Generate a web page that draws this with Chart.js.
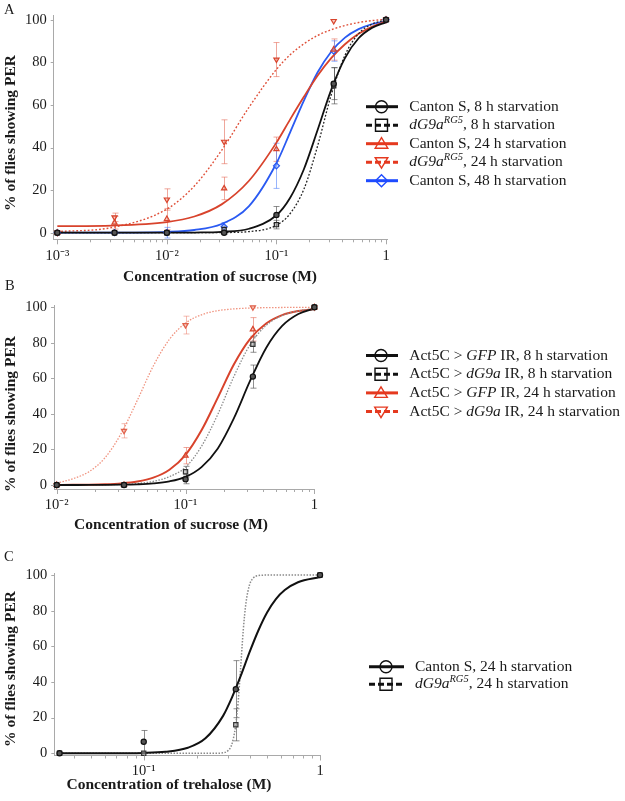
<!DOCTYPE html>
<html><head><meta charset="utf-8">
<script src="https://cdn.jsdelivr.net/npm/chart.js@4/dist/chart.umd.min.js"></script>
<style>
html,body{margin:0;padding:0;background:#fff;width:625px;height:801px;overflow:hidden}
canvas{position:absolute;left:0;top:0}
</style></head><body>
<canvas id="cA" width="625" height="801"></canvas>
<canvas id="cB" width="625" height="801"></canvas>
<canvas id="cC" width="625" height="801"></canvas>
<script>
// ================= Panel A data =================
const concA = [0.001, 0.00333, 0.01, 0.0333, 0.1, 0.333, 1];
const cantonS8hA = [0, 0, 0, 0, 8.3, 70, 100];
const cantonS8hAErr = [0, 0, 0, 0.8, 4, 7.5, 0];
const dG9a8hA = [0, 0, 0, 1.5, 3.8, 69, 100];
const dG9a8hAErr = [0, 0, 0, 1, 2, 8.5, 0];
const cantonS24hA = [0, 4.7, 6.4, 20.8, 39.2, 86, 100];
const cantonS24hAErr = [0, 3, 5, 5.3, 5.7, 5, 0];
const dG9a24hA = [0, 7.2, 15.6, 42.7, 81.3, 99.4, 100];
const dG9a24hAErr = [0, 2, 5, 10.3, 8, 0, 0];
const cantonS48hA = [0, 0, 0, 2.8, 31.4, 85.3, 100];
const cantonS48hAErr = [0, 0, 2.5, 2, 10.6, 4.8, 0];
// fitted curves
const fitXA = [0.001, 0.00316, 0.01, 0.0178, 0.0316, 0.0562, 0.1, 0.133, 0.178, 0.237, 0.316, 0.422, 0.562, 0.75, 1];
const fitCantonS8hA = [0, 0, 0, 0.08, 0.4, 1.85, 8.2, 16.3, 29.8, 48.1, 67.1, 82.0, 91.3, 96.3, 98.8];
const fitDG9a8hA = [0, 0, 0, 0.01, 0.07, 0.52, 3.5, 8.9, 20.4, 40.6, 64.7, 83.3, 93.5, 98.0, 99.9];
const fitCantonS24hA = [3.06, 3.36, 5.0, 7.6, 13.3, 24.4, 42.3, 53.1, 63.8, 73.7, 82.0, 88.5, 93.4, 96.8, 99.2];
const fitDG9a24hA = [0.5, 2.43, 11.1, 21.9, 38.7, 58.9, 76.7, 83.5, 88.7, 92.6, 95.3, 97.3, 98.7, 99.6, 100.2];
const fitCantonS48hA = [0, 0.03, 0.38, 1.26, 4.1, 12.5, 32.6, 47.0, 62.0, 75.2, 85.0, 91.6, 95.6, 98.0, 99.3];
const xTicksA = [0.001, 0.01, 0.1, 1];
const xTickLabelsA = ['10\u207B\u00B3', '10\u207B\u00B2', '10\u207B\u00B9', '1'];

// ================= Panel B data =================
const concB = [0.01, 0.0333, 0.1, 0.333, 1];
const gfp8hB = [0, 0, 3.2, 61, 100];
const gfp8hBErr = [0, 0, 2.5, 6.5, 0];
const dg9aIR8hB = [0, 0, 7.5, 79.2, 100];
const dg9aIR8hBErr = [0, 0, 3, 4.5, 0];
const gfp24hB = [0, 0, 16.5, 87.6, 100];
const gfp24hBErr = [0, 0, 4.6, 6.6, 0];
const dg9aIR24hB = [0, 30.5, 90, 100, 100];
const dg9aIR24hBErr = [0, 4, 5, 0, 0];
const fitXB = [0.01, 0.0133, 0.0178, 0.0237, 0.0316, 0.0422, 0.0562, 0.075, 0.1, 0.133, 0.178, 0.237, 0.316, 0.422, 0.562, 0.75, 1];
const fitGfp8hB = [0, 0.01, 0.03, 0.07, 0.17, 0.4, 0.9, 2.05, 4.6, 10.1, 20.6, 37.5, 58.4, 77.1, 89.5, 96.2, 99.3];
const fitDg9aIR8hB = [0.01, 0.03, 0.07, 0.16, 0.37, 0.87, 2.05, 4.7, 10.0, 21.8, 39.8, 61.0, 78.8, 89.8, 95.4, 98.0, 99.2];
const fitGfp24hB = [0.04, 0.09, 0.19, 0.42, 0.91, 1.95, 4.15, 8.6, 17.0, 30.8, 49.2, 67.8, 82.1, 90.9, 95.6, 97.9, 99.0];
const fitDg9aIR24hB = [1.0, 3.49, 7.49, 15.3, 28.9, 47.6, 67.0, 82.0, 91.1, 95.8, 98.1, 99.1, 99.6, 99.8, 99.9, 100, 100];
const xTicksB = [0.01, 0.1, 1];
const xTickLabelsB = ['10\u207B\u00B2', '10\u207B\u00B9', '1'];

// ================= Panel C data =================
const concC = [0.0333, 0.1, 0.333, 1];
const cantonS24hC = [0, 6.5, 36, 100];
const cantonS24hCErr = [0, 6.3, 16, 0];
const dG9a24hC = [0, 0, 16, 100];
const dG9a24hCErr = [0, 0, 9, 0];
const fitXC1 = [0.0333, 0.0562, 0.1, 0.133, 0.178, 0.224, 0.282, 0.316, 0.355, 0.398, 0.447, 0.501, 0.562, 0.631, 0.75, 1];
const fitCantonS24hC = [0, 0.02, 0.23, 0.84, 3.1, 8.4, 21.0, 31.1, 43.4, 56.6, 68.9, 79.0, 86.5, 91.6, 96.0, 98.9];
const fitXC2 = [0.0333, 0.1, 0.178, 0.251, 0.282, 0.302, 0.316, 0.331, 0.343, 0.355, 0.367, 0.380, 0.398, 0.417, 0.447, 0.501, 1];
const fitDG9a24hC = [0, 0, 0, 0.02, 0.3, 1.65, 5.0, 14.4, 28.5, 48.6, 69.1, 84.2, 94.4, 98.2, 99.7, 100, 100];
const xTicksC = [0.1, 1];
const xTickLabelsC = ['10\u207B\u00B9', '1'];

const yTicks = [0, 20, 40, 60, 80, 100];
const minorMult = [1, 2, 3, 4, 5, 6, 7, 8, 9];

// ================= styling =================
const SERIF = "'Liberation Serif', 'Times New Roman', serif";
Chart.defaults.font.family = SERIF;
Chart.defaults.color = '#1a1a1a';
const AXIS = '#a9a9a9';
const RED = '#d8432c', RED_LEG = '#e5391f', BLUE = '#2a5af2', BLUE_LEG = '#1e4bff';

function pts(xs, ys) { return xs.map((x, i) => ({ x: x, y: ys[i] })); }

function markerDs(xs, ys, errs, style, color, fill, errColor, rot) {
  return { data: pts(xs, ys), errors: errs, errorColor: errColor, showLine: false,
    pointStyle: style, pointRotation: rot || 0, pointRadius: style === 'circle' ? 2.6 : 3,
    pointBorderWidth: 1.2, pointBorderColor: color, pointBackgroundColor: fill,
    borderColor: color, backgroundColor: fill, clip: false };
}
function curveDs(xs, ys, color, width, dash) {
  return { data: pts(xs, ys), showLine: true, borderColor: color, borderWidth: width,
    borderDash: dash || [], pointRadius: 0, cubicInterpolationMode: 'monotone', fill: false, clip: false };
}

// error bars via the chart's scales
const errorBars = {
  id: 'errorBars',
  beforeDatasetsDraw(chart) {
    const { ctx, scales: { x, y } } = chart;
    chart.data.datasets.forEach(ds => {
      if (!ds.errors) return;
      ctx.save();
      ctx.strokeStyle = ds.errorColor; ctx.lineWidth = 1;
      ds.data.forEach((p, j) => {
        const e = ds.errors[j]; if (!e) return;
        const px = Math.round(x.getPixelForValue(p.x)) + 0.5;
        const y1 = y.getPixelForValue(p.y + e), y2 = y.getPixelForValue(p.y - e);
        ctx.beginPath();
        ctx.moveTo(px, y1); ctx.lineTo(px, y2);
        ctx.moveTo(px - 3, y1); ctx.lineTo(px + 3, y1);
        ctx.moveTo(px - 3, y2); ctx.lineTo(px + 3, y2);
        ctx.stroke();
      });
      ctx.restore();
    });
  }
};

// tick marks (major/minor) through the chart's scales
const axisTicks = {
  id: 'axisTicks',
  afterDraw(chart, args, o) {
    const { ctx, chartArea: a, scales: { x, y } } = chart;
    ctx.save(); ctx.strokeStyle = AXIS; ctx.lineWidth = 1; ctx.beginPath();
    o.decades.forEach(d => {
      minorMult.forEach(m => {
        const v = d * m;
        if (v < x.min * 0.999 || v > x.max * 1.001) return;
        const px = Math.round(x.getPixelForValue(v)) + 0.5;
        const len = m === 1 ? 5 : 3;
        ctx.moveTo(px, a.bottom); ctx.lineTo(px, a.bottom + len);
      });
    });
    yTicks.forEach(v => {
      const py = Math.round(y.getPixelForValue(v)) + 0.5;
      ctx.moveTo(a.left, py); ctx.lineTo(a.left - 3, py);
    });
    ctx.stroke(); ctx.restore();
  }
};

function drawMarker(ctx, type, cx, cy, r) {
  ctx.beginPath();
  if (type === 'circle') ctx.arc(cx, cy, r, 0, Math.PI * 2);
  else if (type === 'rect') ctx.rect(cx - r, cy - r, 2 * r, 2 * r);
  else if (type === 'tri') { ctx.moveTo(cx, cy - r); ctx.lineTo(cx + r * 1.05, cy + r * 0.75); ctx.lineTo(cx - r * 1.05, cy + r * 0.75); ctx.closePath(); }
  else if (type === 'triDown') { ctx.moveTo(cx, cy + r); ctx.lineTo(cx + r * 1.05, cy - r * 0.75); ctx.lineTo(cx - r * 1.05, cy - r * 0.75); ctx.closePath(); }
  else if (type === 'diamond') { ctx.moveTo(cx, cy - r); ctx.lineTo(cx + r, cy); ctx.lineTo(cx, cy + r); ctx.lineTo(cx - r, cy); ctx.closePath(); }
  ctx.stroke();
}

// panel letter, axis titles and legend
const panelText = {
  id: 'panelText',
  afterDraw(chart, args, o) {
    const ctx = chart.ctx;
    ctx.save();
    ctx.fillStyle = '#1a1a1a';
    ctx.font = '14.5px ' + SERIF; ctx.textAlign = 'left'; ctx.textBaseline = 'alphabetic';
    ctx.fillText(o.letter, o.letterPos[0], o.letterPos[1]);
    ctx.font = 'bold 15.5px ' + SERIF; ctx.textAlign = 'center'; ctx.textBaseline = 'middle';
    ctx.fillText(o.xTitle, o.xTitlePos[0], o.xTitlePos[1]);
    ctx.translate(o.yTitlePos[0], o.yTitlePos[1]); ctx.rotate(-Math.PI / 2);
    ctx.fillText(o.yTitle, 0, 0);
    ctx.restore();
    const L = o.legend;
    L.items.forEach((it, k) => {
      const cy = L.y0 + k * L.dy;
      ctx.save();
      ctx.strokeStyle = it.color; ctx.lineWidth = 3;
      ctx.setLineDash(it.dashed ? [6, 3] : []);
      ctx.beginPath(); ctx.moveTo(L.x0, cy); ctx.lineTo(L.x1, cy); ctx.stroke();
      ctx.setLineDash([]); ctx.lineWidth = 1.4;
      drawMarker(ctx, it.marker, L.mx, cy, L.r);
      let tx = L.tx;
      ctx.fillStyle = '#1a1a1a'; ctx.textBaseline = 'middle'; ctx.textAlign = 'left';
      it.parts.forEach(([t, st]) => {
        let dy = 0;
        if (st === 'i') ctx.font = 'italic 15.5px ' + SERIF;
        else if (st === 'sup') { ctx.font = 'italic 10.5px ' + SERIF; dy = -5; }
        else ctx.font = '15.5px ' + SERIF;
        ctx.fillText(t, tx, cy + dy);
        tx += ctx.measureText(t).width;
      });
      ctx.restore();
    });
  }
};

function makeChart(id, c) {
  return new Chart(document.getElementById(id), {
    type: 'line',
    data: { datasets: c.datasets },
    options: {
      responsive: false, animation: false, devicePixelRatio: 1,
      events: [],
      layout: { padding: { left: 0, top: c.top, right: 625 - c.right, bottom: 801 - c.bottom - 30 } },
      plugins: { legend: { display: false }, tooltip: { enabled: false },
        axisTicks: { decades: c.decades }, panelText: c.text },
      scales: {
        x: {
          type: 'logarithmic', min: c.xmin, max: c.xmax,
          afterBuildTicks: s => { s.ticks = c.xTicks.map(v => ({ value: v })); },
          afterFit: s => { s.height = 30; },
          grid: { display: false, drawTicks: false },
          border: { display: true, color: AXIS, width: 1 },
          ticks: { autoSkip: false, maxRotation: 0, minRotation: 0, padding: c.xPad,
            font: { size: 14.5, family: SERIF }, color: '#1a1a1a',
            callback: (v, i) => c.xLabels[i] }
        },
        y: {
          type: 'linear', min: c.ymin, max: c.ymax,
          afterBuildTicks: s => { s.ticks = yTicks.map(v => ({ value: v })); },
          afterFit: s => { s.width = c.left; },
          grid: { display: false, drawTicks: false },
          border: { display: true, color: AXIS, width: 1 },
          ticks: { padding: 7, font: { size: 14.5, family: SERIF }, color: '#1a1a1a',
            callback: v => String(v) }
        }
      }
    },
    plugins: [errorBars, axisTicks, panelText]
  });
}

const GREY_ERR = 'rgba(70,70,70,0.6)', RED_ERR = 'rgba(225,95,75,0.55)', BLUE_ERR = 'rgba(70,120,250,0.55)';
const sup = (a, b) => [[a, 'i'], ['RG5', 'sup'], [b, 'n']];

// ---------------- Panel A ----------------
makeChart('cA', {
  left: 53.7, right: 387, top: 15.3, bottom: 239.3,
  xmin: 0.000927, xmax: 1.021, ymin: -3.1, ymax: 101.9, xPad: 8,
  xTicks: xTicksA, xLabels: xTickLabelsA, decades: [0.001, 0.01, 0.1, 1],
  datasets: [
    markerDs(concA, cantonS8hA, cantonS8hAErr, 'circle', '#111', '#555', GREY_ERR),
    markerDs(concA, dG9a8hA, dG9a8hAErr, 'rect', '#222', 'rgba(170,170,170,0.6)', GREY_ERR),
    markerDs(concA, cantonS24hA, cantonS24hAErr, 'triangle', RED, 'rgba(240,150,130,0.5)', RED_ERR),
    markerDs(concA, dG9a24hA, dG9a24hAErr, 'triangle', RED, 'rgba(240,150,130,0.5)', RED_ERR, 180),
    markerDs(concA, cantonS48hA, cantonS48hAErr, 'rectRot', BLUE, 'rgba(150,180,255,0.5)', BLUE_ERR),
    curveDs(fitXA, fitCantonS8hA, '#111', 1.8),
    curveDs(fitXA, fitDG9a8hA, '#222', 1.3, [1.8, 1.8]),
    curveDs(fitXA, fitCantonS24hA, RED, 1.8),
    curveDs(fitXA, fitDG9a24hA, '#df4f38', 1.4, [1.8, 2]),
    curveDs(fitXA, fitCantonS48hA, BLUE, 1.8)
  ],
  text: {
    letter: 'A', letterPos: [4, 14],
    xTitle: 'Concentration of sucrose (M)', xTitlePos: [220, 277],
    yTitle: '% of flies showing PER', yTitlePos: [11, 133],
    legend: { x0: 366, x1: 398, mx: 381.5, r: 6, tx: 409.3, y0: 106.7, dy: 18.5, items: [
      { color: '#111', dashed: false, marker: 'circle', parts: [['Canton S, 8 h starvation', 'n']] },
      { color: '#111', dashed: true, marker: 'rect', parts: sup('dG9a', ', 8 h starvation') },
      { color: RED_LEG, dashed: false, marker: 'tri', parts: [['Canton S, 24 h starvation', 'n']] },
      { color: RED_LEG, dashed: true, marker: 'triDown', parts: sup('dG9a', ', 24 h starvation') },
      { color: BLUE_LEG, dashed: false, marker: 'diamond', parts: [['Canton S, 48 h starvation', 'n']] }
    ] }
  }
});

// ---------------- Panel B ----------------
makeChart('cB', {
  left: 54, right: 314.4, top: 305, bottom: 489,
  xmin: 0.00953, xmax: 1, ymin: -2.25, ymax: 101.3, xPad: 7,
  xTicks: xTicksB, xLabels: xTickLabelsB, decades: [0.01, 0.1, 1],
  datasets: [
    markerDs(concB, gfp8hB, gfp8hBErr, 'circle', '#111', '#555', GREY_ERR),
    markerDs(concB, dg9aIR8hB, dg9aIR8hBErr, 'rect', '#333', 'rgba(170,170,170,0.6)', GREY_ERR),
    markerDs(concB, gfp24hB, gfp24hBErr, 'triangle', RED, 'rgba(240,150,130,0.5)', RED_ERR),
    markerDs(concB, dg9aIR24hB, dg9aIR24hBErr, 'triangle', '#e0604a', 'rgba(240,160,140,0.5)', 'rgba(235,120,100,0.5)', 180),
    curveDs(fitXB, fitGfp8hB, '#111', 1.8),
    curveDs(fitXB, fitDg9aIR8hB, '#8a8a8a', 1.3, [1.5, 1.5]),
    curveDs(fitXB, fitGfp24hB, RED, 2),
    curveDs(fitXB, fitDg9aIR24hB, '#f0937f', 1.3, [1.5, 1.5])
  ],
  text: {
    letter: 'B', letterPos: [5, 290],
    xTitle: 'Concentration of sucrose (M)', xTitlePos: [171, 525],
    yTitle: '% of flies showing PER', yTitlePos: [11, 414],
    legend: { x0: 366, x1: 398, mx: 381, r: 6, tx: 409.3, y0: 355.5, dy: 18.7, items: [
      { color: '#111', dashed: false, marker: 'circle', parts: [['Act5C > ', 'n'], ['GFP', 'i'], [' IR, 8 h starvation', 'n']] },
      { color: '#111', dashed: true, marker: 'rect', parts: [['Act5C > ', 'n'], ['dG9a', 'i'], [' IR, 8 h starvation', 'n']] },
      { color: RED_LEG, dashed: false, marker: 'tri', parts: [['Act5C > ', 'n'], ['GFP', 'i'], [' IR, 24 h starvation', 'n']] },
      { color: RED_LEG, dashed: true, marker: 'triDown', parts: [['Act5C > ', 'n'], ['dG9a', 'i'], [' IR, 24 h starvation', 'n']] }
    ] }
  }
});

// ---------------- Panel C ----------------
makeChart('cC', {
  left: 54.3, right: 320, top: 573.3, bottom: 755.5,
  xmin: 0.0311, xmax: 1, ymin: -1.23, ymax: 101, xPad: 7,
  xTicks: xTicksC, xLabels: xTickLabelsC, decades: [0.01, 0.1, 1],
  datasets: [
    markerDs(concC, cantonS24hC, cantonS24hCErr, 'circle', '#111', '#555', GREY_ERR),
    markerDs(concC, dG9a24hC, dG9a24hCErr, 'rect', '#333', 'rgba(170,170,170,0.6)', GREY_ERR),
    curveDs(fitXC1, fitCantonS24hC, '#111', 2),
    curveDs(fitXC2, fitDG9a24hC, '#8a8a8a', 1.5, [1.5, 1.5])
  ],
  text: {
    letter: 'C', letterPos: [4, 560.5],
    xTitle: 'Concentration of trehalose (M)', xTitlePos: [169, 785],
    yTitle: '% of flies showing PER', yTitlePos: [11, 669],
    legend: { x0: 369, x1: 404, mx: 386, r: 6, tx: 415, y0: 666.7, dy: 17.6, items: [
      { color: '#111', dashed: false, marker: 'circle', parts: [['Canton S, 24 h starvation', 'n']] },
      { color: '#111', dashed: true, marker: 'rect', parts: sup('dG9a', ', 24 h starvation') }
    ] }
  }
});
</script>
</body></html>
